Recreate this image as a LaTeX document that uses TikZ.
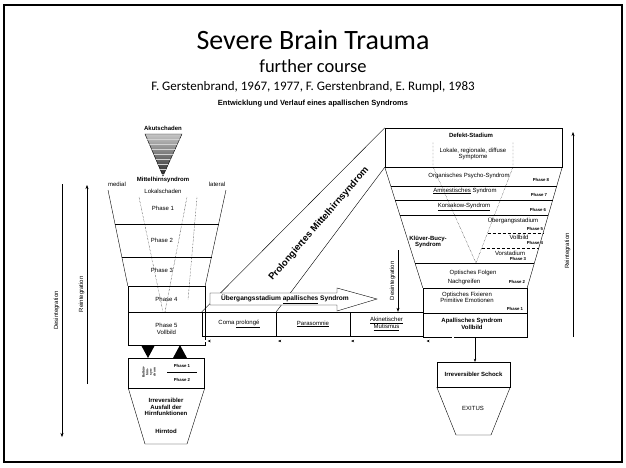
\documentclass[tikz,border=0pt]{standalone}
\usepackage{fontspec}
\setmainfont{Liberation Sans}
\newfontfamily\slidefont{Carlito}
\usetikzlibrary{arrows.meta,decorations.markings}

\begin{document}
\begin{tikzpicture}[
    x=1pt, y=-1pt,
    txt/.style={inner sep=0.5pt, align=center, font=\fontsize{6}{6.6}\selectfont},
    btxt/.style={inner sep=0.5pt, align=center, font=\fontsize{6}{6.6}\selectfont\bfseries},
    ptxt/.style={inner sep=0pt, font=\fontsize{4.3}{5}\selectfont\bfseries},
    box/.style={rectangle, draw, thin, inner sep=0pt, align=center, font=\fontsize{6}{6.8}\selectfont},
    dotl/.style={densely dotted, thin},
    dashl/.style={densely dashed, thin},
    scalearrow/.style={-{Stealth[length=4pt,width=3pt]}, thin},
    fbline/.style={double, double distance=1.8pt, thin},
    fbmarks/.style={decorate, decoration={markings,
        mark=at position 0.12 with {\arrow{Stealth[length=3pt,width=2.5pt]}},
        mark=at position 0.42 with {\arrow{Stealth[length=3pt,width=2.5pt]}},
        mark=at position 0.71 with {\arrow{Stealth[length=3pt,width=2.5pt]}},
        mark=at position 0.99 with {\arrow{Stealth[length=3pt,width=2.5pt]}}}}
]
\useasboundingbox (0,0) rectangle (626,467);
\draw[line width=1.3pt] (4,5) rectangle (622,462);

\node[font=\slidefont\fontsize{28}{30}\selectfont] (title) at (313,40) {Severe Brain Trauma};
\node[font=\slidefont\fontsize{18.5}{20}\selectfont] (course) at (313,66) {further course};
\node[font=\slidefont\fontsize{13}{15}\selectfont] (authors) at (313,87) {F. Gerstenbrand, 1967, 1977, F. Gerstenbrand, E. Rumpl, 1983};
\node[font=\fontsize{7.5}{8}\selectfont\bfseries] (german) at (313,104) {Entwicklung und Verlauf eines apallischen Syndroms};

\shade[top color=gray!45, bottom color=black!85, draw=black, thin] (145,134) -- (182,134) -- (163,176) -- cycle;
\begin{scope}
\clip (145,134) -- (182,134) -- (163,176) -- cycle;
\foreach \yy in {139,144,...,174}
    \draw[gray!35, line width=0.4pt] (140,\yy) -- (190,\yy);
\end{scope}
\node[btxt] (akut) at (163,128) {Akutschaden};
\node[btxt] (mittel) at (163,180) {Mittelhirnsyndrom};
\node[txt] (medial) at (117,184) {medial};
\node[txt] (lateral) at (217,184) {lateral};
\node[txt] (lokal) at (163,191) {Lokalschaden};

\node[box, minimum width=77pt, minimum height=26pt] (ph4) at (166.5,299) {Phase 4};
\node[box, minimum width=77pt, minimum height=33pt] (ph5) at (166.5,328.5) {Phase 5\\Vollbild};
\draw[thin] (108,190) -- (ph4.north west);
\draw[thin] (226,190) -- (ph4.north east);
\draw[thin] (115,224) -- (219,224);
\draw[thin] (122,257) -- (212,257);
\node[txt] (ph1) at (163,208) {Phase 1};
\node[txt] (ph2) at (162,240) {Phase 2};
\node[txt] (ph3) at (162,270) {Phase 3};
\draw[dotl] (139,197) -- (163,312);
\draw[dotl] (187,197) -- (165,312);
\draw[dotl] (197,197) -- (188,300);

\node[box, minimum width=76pt, minimum height=30pt] (htop) at (166.5,373) {};
\fill (141,345) -- (155,345) -- (148,358) -- cycle;
\fill (173,358) -- (187,358) -- (180,345) -- cycle;
\node[rotate=90, align=center, inner sep=0pt, font=\fontsize{3.2}{3.7}\selectfont\bfseries] (bulbaer) at (149,372) {Bulbär-\\hirn-\\syn-\\drom};
\node[ptxt] (hph1) at (182,366) {Phase 1};
\draw[thin] (167,372) -- (197,372);
\node[ptxt] (hph2) at (182,380) {Phase 2};
\draw[thin] (htop.south west) -- (145,444) -- (187,444) -- (htop.south east);
\node[btxt] (ausfall) at (166,407) {Irreversibler\\Ausfall der\\Hirnfunktionen};
\node[btxt] (hirntod) at (166,431) {Hirntod};

\coordinate (dtop) at (62,184);
\coordinate (dbot) at (62,437);
\draw[scalearrow] (dtop) -- node[txt, midway, rotate=90, anchor=south, yshift=2pt] {Desintegration} (dbot);
\coordinate (rbot) at (87,384);
\coordinate (rtop) at (87,185);
\draw[scalearrow] (rbot) -- node[txt, pos=0.45, rotate=90, anchor=south, yshift=2pt] {Reintegration} (rtop);

\node[box, minimum width=74pt, minimum height=24pt] (coma) at (239,324) {Coma \underline{prolongé}};
\node[box, minimum width=74pt, minimum height=24pt] (para) at (313,324) {\underline{Parasomnie}};
\node[box, minimum width=73pt, minimum height=24pt] (mutismus) at (386.5,324) {\underline{Akinetischer}\\\underline{Mutismus}};

\node[box, minimum width=177pt, minimum height=39pt] (defekt) at (473.5,147.5) {};
\node[box, minimum width=104pt, minimum height=25pt] (fixieren) at (475,300.5) {};
\node[box, minimum width=104pt, minimum height=24pt] (apallic) at (475,325) {};

\draw[thin] (coma.north west) -- (defekt.north west);
\draw[thin] (coma.north east) -- (defekt.south west);
\node[rotate=49, inner sep=0pt, font=\fontsize{9.5}{10}\selectfont\bfseries] (prolong) at (319,224) {Prolongiertes Mittelhirnsyndrom};
\draw[thin, fill=white] (210,293) -- (337,293) -- (337,288) -- (377,299) -- (337,311) -- (337,305) -- (210,305) -- cycle;
\node[btxt, font=\fontsize{6.6}{7}\selectfont\bfseries] (uebergang) at (285,299) {Übergangsstadium \underline{apallisches} Syndrom};

\coordinate (dmtop) at (398,250);
\draw[scalearrow] (dmtop) -- node[txt, midway, rotate=90, anchor=south, yshift=2pt] {Desintegration} (dmtop |- mutismus.north);

\draw[thin] (defekt.south west) -- (fixieren.north west);
\draw[thin] (defekt.south east) -- (fixieren.north east);
\draw[thin] (391,186) -- (556.5,186);
\draw[thin] (395.4,200) -- (552.5,200);
\draw[thin] (400.1,215) -- (548.1,215);
\draw[thin] (415.1,263) -- (534.2,263);
\draw[dotl] (433,142) -- (433,167) -- (476,263);
\draw[dotl] (513,142) -- (513,167) -- (476,263);
\draw[dashl] (487.6,233) -- (542.9,233);
\draw[dashl] (481.8,248) -- (538.6,248);

\node[btxt] (defekttitle) at (471,135) {Defekt-Stadium};
\node[txt] (symptome) at (473,154) {Lokale, regionale, diffuse\\Symptome};
\node[txt] (psycho) at (469,176) {Organisches Psycho-Syndrom};
\node[ptxt] (rph8) at (541,180) {Phase 8};
\node[txt] (amnest) at (465,191) {\underline{Amnestisches} Syndrom};
\node[ptxt] (rph7) at (539,195) {Phase 7};
\node[txt] (korsakow) at (464,207) {\underline{Korsakow-Syndrom}};
\node[ptxt] (rph6) at (538,210) {Phase 6};
\node[txt] (uebst) at (513,221) {Übergangsstadium};
\node[ptxt] (rph5) at (535,228.5) {Phase 5};
\node[txt] (vollb) at (519,237) {Vollbild};
\node[ptxt] (rph4) at (535,243) {Phase 4};
\node[txt] (vorst) at (510,253) {Vorstadium};
\node[ptxt] (rph3) at (518,259) {Phase 3};
\node[btxt] (kluever) at (428,242) {Klüver-Bucy-\\Syndrom};
\node[txt] (folgen) at (473,273) {Optisches Folgen};
\node[txt] (nachgr) at (464,282) {Nachgreifen};
\node[ptxt] (rph2) at (517,282) {Phase 2};
\node[txt] (fixtext) at (467,297.5) {Optisches Fixieren\\Primitive Emotionen};
\node[ptxt] (rph1) at (515,309) {Phase 1};
\node[btxt] (apaltext) at (472,324) {Apallisches Syndrom\\Vollbild};

\node[box, font=\fontsize{6}{6.8}\selectfont\bfseries, minimum width=73pt, minimum height=25pt] (schock) at (473.5,374.5) {Irreversibler Schock};
\draw[thin] (schock.south west) -- (456,435) -- (491,435) -- (schock.south east);
\node[txt] (exitus) at (473,408) {EXITUS};
\draw[-{Stealth[length=3pt,width=2.5pt]}, thin] (apallic.south) -- (apallic.south |- schock.north);

\coordinate (fbturn) at (453,341);
\draw[fbline] (apallic.south -| fbturn) -- (fbturn) -- (ph5.east |- fbturn);
\path[fbmarks] (apallic.south -| fbturn) -- (fbturn) -- (ph5.east |- fbturn);

\coordinate (ritop) at (573,132);
\coordinate (ribot) at (573,337);
\draw[scalearrow] (ribot) -- node[txt, pos=0.42, rotate=90, anchor=south, yshift=2pt] {Reintegration} (ritop);
\end{tikzpicture}
\end{document}
